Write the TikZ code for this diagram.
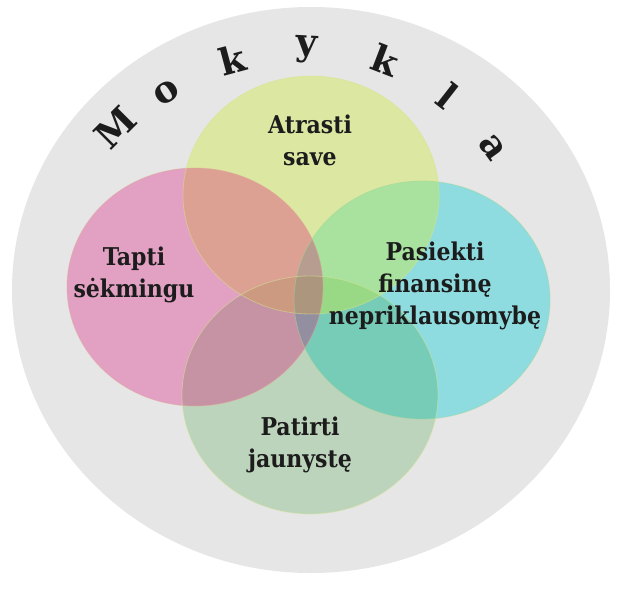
\documentclass[tikz,border=0pt]{standalone}
\usepackage{fontspec}
\setmainfont{DejaVu Serif}
\newfontfamily\labelfont{DejaVu Serif Condensed}
\definecolor{bggray}{RGB}{230,230,230}
\definecolor{cyanc}{RGB}{142,220,224}
\definecolor{greenc}{RGB}{25,140,20}
\definecolor{yellowc}{RGB}{207,235,60}
\definecolor{pinkc}{RGB}{220,0,113}
\definecolor{txt}{RGB}{28,28,28}
\begin{document}
\begin{tikzpicture}[x=1pt,y=-1pt,
  lbl/.style={font=\labelfont\bfseries\fontsize{24.5}{32}\selectfont, text=txt, align=center, inner sep=0pt},
  arcletter/.style={font=\bfseries\fontsize{37}{37}\selectfont, text=txt, inner sep=0pt},
  ring/.style={x radius=128, y radius=119},
  edge/.style={line width=0.8pt, draw opacity=0.5}]
\useasboundingbox (0,0) rectangle (626,589);
\fill[white] (0,0) rectangle (626,589);
\fill[bggray] (311,290) ellipse [x radius=299, y radius=283];
% circles
\fill[cyanc] (422,300) ellipse [ring];
\fill[greenc, fill opacity=0.2] (310,395) ellipse [ring];
\fill[yellowc, fill opacity=0.4] (311,195) ellipse [ring];
\fill[pinkc, fill opacity=0.3] (195,287) ellipse [ring];
% faint rims
\draw[edge, color={rgb,255:red,165;green,215;blue,150}] (422,300) ellipse [ring];
\draw[edge, color={rgb,255:red,215;green,230;blue,150}] (310,395) ellipse [ring];
\draw[edge, color={rgb,255:red,215;green,228;blue,140}] (311,195) ellipse [ring];
\draw[edge, color={rgb,255:red,225;green,170;blue,150}] (195,287) ellipse [ring];
% labels
\node[lbl] (atrasti) at (310,140) {Atrasti\\save};
\node[lbl] (tapti) at (134,275) {Tapti\\sėkmingu};
\node[lbl] (pasiekti) at (435,286) {Pasiekti\\finansinę\\nepriklausomybę};
\node[lbl] (patirti) at (300,445) {Patirti\\jaunystę};
% arc text
\node[arcletter, rotate=45] (m1) at (115,127) {M};
\node[arcletter, rotate=33] (m2) at (167,93) {o};
\node[arcletter, rotate=15] (m3) at (232,60) {k};
\node[arcletter, rotate=-3] (m4) at (307,50) {y};
\node[arcletter, rotate=-21] (m5) at (385,60) {k};
\node[arcletter, rotate=-38] (m6) at (448,96) {l};
\node[arcletter, rotate=-54] (m7) at (492,148) {a};
\end{tikzpicture}
\end{document}
